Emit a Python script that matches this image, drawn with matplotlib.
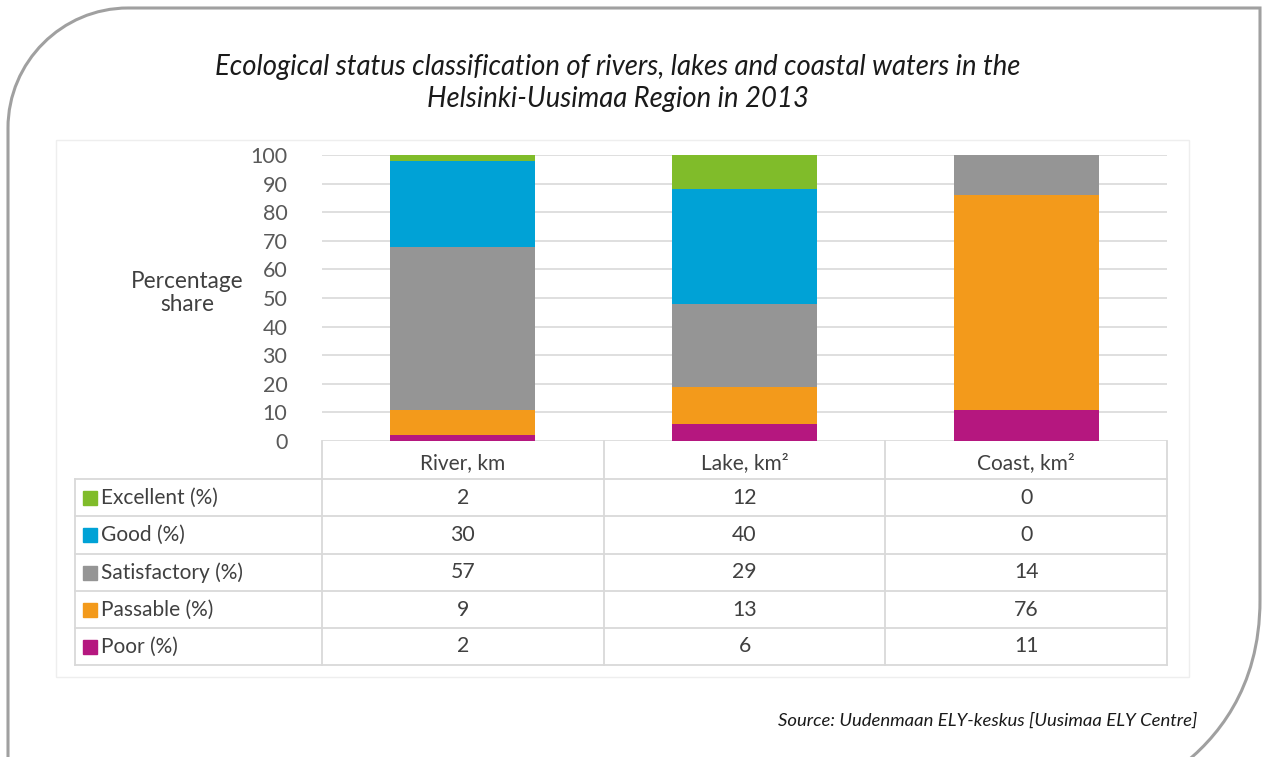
import numpy as np
import matplotlib.pyplot as plt
from matplotlib.path import Path
from matplotlib.patches import PathPatch, Rectangle

categories = ["River, km", "Lake, km²", "Coast, km²"]
classes = ["Excellent (%)", "Good (%)", "Satisfactory (%)", "Passable (%)", "Poor (%)"]
excellent = [2, 12, 0]
good = [30, 40, 0]
satisfactory = [57, 29, 14]
passable = [9, 13, 76]
poor = [2, 6, 11]
colors = ["#80bc2a", "#00a2d6", "#959595", "#f39a1b", "#b5177f"]

plt.rcParams['font.family'] = ['Lato', 'DejaVu Sans']

W, H = 1266, 757
fig = plt.figure(figsize=(W / 100, H / 100), dpi=100)

# overlay axes in pixel coordinates for frame and table
bg = fig.add_axes([0, 0, 1, 1])
bg.set_xlim(0, W)
bg.set_ylim(H, 0)
bg.axis("off")

# rounded frame
verts = [(8, H), (8, 128), (8, 62), (62, 8), (128, 8), (1260, 8), (1260, 600),
         (1260, 690), (1215, 740), (1180, H + 10)]
codes = [Path.MOVETO, Path.LINETO, Path.CURVE4, Path.CURVE4, Path.CURVE4, Path.LINETO,
         Path.LINETO, Path.CURVE4, Path.CURVE4, Path.CURVE4]
bg.add_patch(PathPatch(Path(verts, codes), fill=False, edgecolor="#a0a0a0", lw=2.2))

# faint chart-area border
bg.add_patch(Rectangle((56, 140), 1133, 537, fill=False, edgecolor="#eeeeee", lw=1))

# title and source
bg.text(618, 83, "Ecological status classification of rivers, lakes and coastal waters in the\n"
        "Helsinki-Uusimaa Region in 2013", ha="center", va="center", style="italic",
        fontsize=19.8, color="#1a1a1a", linespacing=1.25)
bg.text(1197, 721, "Source: Uudenmaan ELY-keskus [Uusimaa ELY Centre]", ha="right", va="center",
        style="italic", fontsize=13.3, color="#1a1a1a")

# main chart
x0, x1, ytop, ybot = 322, 1167, 155, 441
ax = fig.add_axes([x0 / W, (H - ybot) / H, (x1 - x0) / W, (ybot - ytop) / H])
ax.patch.set_alpha(0)

series = [poor, passable, satisfactory, good, excellent]
series_colors = colors[::-1]
totals = np.sum(series, axis=0)
xs = np.arange(len(categories))
bottom = np.zeros(len(categories))
for vals, c in zip(series, series_colors):
    share = np.array(vals) / totals * 100
    ax.bar(xs, share, 0.515, bottom=bottom, color=c, zorder=3)
    bottom += share

ax.set_xlim(-0.5, 2.5)
ax.set_ylim(0, 100)
ax.set_yticks(np.arange(0, 101, 10))
ax.set_xticks([])
ax.tick_params(axis="y", length=0, pad=25, labelsize=15.5, labelcolor="#595959")
ax.grid(axis="y", color="#d9d9d9", lw=1.2, zorder=0)
for s in ax.spines.values():
    s.set_visible(False)

bg.text(187, 293, "Percentage\nshare", ha="center", va="center", fontsize=16.3,
        color="#404040", linespacing=1.15)

# data table
line_kw = dict(color="#d9d9d9", lw=1.3)
col_x = [x0, 604, 885, x1]
row_y = [479, 516, 554, 591, 628, 665]
bg.plot([x0, x0], [ybot, row_y[-1]], **line_kw)
for cx in col_x[1:]:
    bg.plot([cx, cx], [ybot, row_y[-1]], **line_kw)
bg.plot([75, 75], [row_y[0], row_y[-1]], **line_kw)
for ry in row_y:
    bg.plot([75, x1], [ry, ry], **line_kw)

cw = (x1 - x0) / len(categories)
for i, cat in enumerate(categories):
    bg.text(x0 + (i + 0.5) * cw, (ybot + row_y[0]) / 2 + 3, cat, ha="center", va="center",
            fontsize=15, color="#404040")

rows = [excellent, good, satisfactory, passable, poor]
for r, (name, vals, c) in enumerate(zip(classes, rows, colors)):
    yc = (row_y[r] + row_y[r + 1]) / 2
    bg.add_patch(Rectangle((83, yc - 7), 14, 14, color=c))
    bg.text(101, yc, name, ha="left", va="center", fontsize=15, color="#404040")
    for i, v in enumerate(vals):
        bg.text(x0 + (i + 0.5) * cw, yc, str(v), ha="center", va="center",
                fontsize=15.3, color="#404040")

fig.savefig("out.png", dpi=100)
